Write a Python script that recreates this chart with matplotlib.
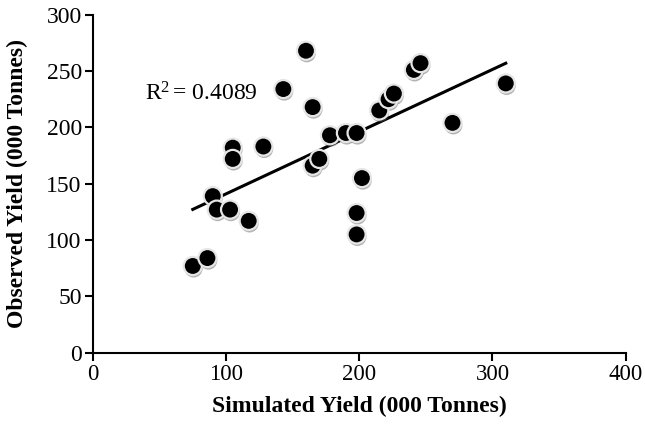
import numpy as np
import matplotlib
matplotlib.use('Agg')
import matplotlib.pyplot as plt
import matplotlib.patheffects as pe

# Simulated vs observed yield (000 tonnes)
simulated = [75, 86, 90, 93, 103, 117, 105, 105, 128, 143, 160, 165, 165, 170,
             178, 190, 198, 198, 198, 202, 215, 222, 226, 241, 246, 270, 310]
observed = [77, 84, 139, 127, 127, 117, 182, 172, 183, 234, 268, 218, 166, 172,
            193, 195, 195, 124, 105, 155, 215, 225, 230, 251, 257, 204, 239]

# Trendline as drawn in the chart
trend_slope = 0.552
trend_intercept = 85.8
r2_label = r'R$^{2}\,$= 0.4089'

plt.rcParams['font.family'] = 'Liberation Serif'
plt.rcParams['mathtext.fontset'] = 'custom'
plt.rcParams['mathtext.rm'] = 'Liberation Serif'
plt.rcParams['mathtext.it'] = 'Liberation Serif:italic'

fig = plt.figure(figsize=(6.45, 4.26), dpi=100)
ax = fig.add_axes([0.144, 0.172, 0.826, 0.7935])

x = np.array(simulated)
xs = np.array([x.min(), x.max()])
ax.plot(xs, trend_slope * xs + trend_intercept, color='black', lw=2.2, zorder=2)

# black dots with a pale rim and a soft drop shadow
shadow = [pe.SimplePatchShadow(offset=(0.6, -1.8), shadow_rgbFace='#555555', alpha=0.45),
          pe.Normal()]
ax.scatter(simulated, observed, s=170, c='black', edgecolors='#e6e6e6',
           linewidths=1.6, zorder=3, path_effects=shadow)

ax.text(39, 230, r2_label, fontsize=17, va='center', ha='left')

ax.set_xlim(0, 400)
ax.set_ylim(0, 300)
ax.set_xticks([0, 100, 200, 300, 400])
ax.set_yticks([0, 50, 100, 150, 200, 250, 300])
for side in ['top', 'right']:
    ax.spines[side].set_visible(False)
for side in ['left', 'bottom']:
    ax.spines[side].set_linewidth(1.5)
ax.tick_params(axis='both', labelsize=16.5, width=1.5, length=6, direction='out', pad=2)
ax.tick_params(axis='y', labelsize=17)

ax.set_xlabel('Simulated Yield (000 Tonnes)', fontsize=17, fontweight='bold', labelpad=8)
ax.set_ylabel('Observed Yield (000 Tonnes)', fontsize=17, fontweight='bold', labelpad=13)

fig.savefig('out.png', dpi=100)
